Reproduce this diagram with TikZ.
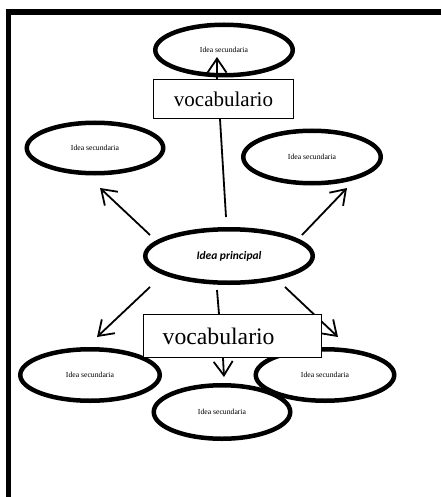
\documentclass[tikz,border=0pt]{standalone}
\usepackage{fontspec}
\setmainfont{Liberation Serif}
\newfontfamily\calfont{Carlito}
\usetikzlibrary{shapes.geometric,arrows.meta}
\begin{document}
\begin{tikzpicture}[x=1pt,y=-1pt,
  idea/.style={ellipse,draw,fill=white,line width=4.5pt,inner sep=0pt,
    font=\fontsize{7.7}{9}\selectfont},
  vocab/.style={rectangle,draw,fill=white,line width=1.4pt,inner sep=0pt},
  arr/.style={line width=1.8pt,-{Straight Barb[length=14pt,width=19pt,line width=1.8pt]}},
  con/.style={line width=1.8pt}]
\useasboundingbox (0,0) rectangle (441,497);
\fill[white] (0,0) rectangle (441,497);
% frame
\draw[line width=5.5pt,miter limit=10] (8.5,497) -- (8.5,12) -- (441,12);
% ellipses
\node[idea,minimum width=137.5pt,minimum height=50.5pt] (top) at (224,50) {Idea secundaria};
\node[idea,minimum width=136.5pt,minimum height=50.5pt] (ul) at (95,148) {Idea secundaria};
\node[idea,minimum width=137.5pt,minimum height=52.5pt] (ur) at (312,157) {Idea secundaria};
\node[idea,minimum width=167.5pt,minimum height=53.5pt,font=\calfont\bfseries\itshape\fontsize{11.5}{13}\selectfont] (main) at (229,256) {Idea principal};
\node[idea,minimum width=139.5pt,minimum height=51.5pt] (bl) at (90,375) {Idea secundaria};
\node[idea,minimum width=136.5pt,minimum height=53.5pt] (bm) at (222,412) {Idea secundaria};
\node[idea,minimum width=138.5pt,minimum height=51.5pt] (br) at (325,375) {Idea secundaria};
% connector end points
\coordinate (a1s) at (150,235); \coordinate (a1e) at (100,188);
\coordinate (a2s) at (302,235); \coordinate (a2e) at (347,188);
\coordinate (a3s) at (150,287); \coordinate (a3e) at (97,337);
\coordinate (a4s) at (285,287); \coordinate (a4e) at (338,337);
\coordinate (l1s) at (226,217);
\coordinate (l2s) at (217,290);
\coordinate (a5e) at (217,57);
\coordinate (a6e) at (224,377);
% arrows
\draw[arr] (a1s) -- (a1e);
\draw[arr] (a2s) -- (a2e);
\draw[arr] (a3s) -- (a3e);
\draw[arr] (a4s) -- (a4e);
% boxes
\node[vocab,minimum width=139.6pt,minimum height=38.6pt,font=\fontsize{21}{24}\selectfont] (v1) at (223.5,99) {vocabulario};
\node[vocab,minimum width=177.6pt,minimum height=42.6pt,text width=177.6pt,align=left,font=\fontsize{23.7}{26}\selectfont] (v2) at (232.5,336) {\hspace{19pt}vocabulario};
% connectors to boxes
\draw[con] (l1s) -- (v1.south -| 220,0);
\draw[arr] (v1.north -| 217,0) -- (a5e);
\draw[con] (l2s) -- (v2.north -| 219,0);
\draw[arr] (v2.south -| 223,0) -- (a6e);
\end{tikzpicture}
\end{document}
